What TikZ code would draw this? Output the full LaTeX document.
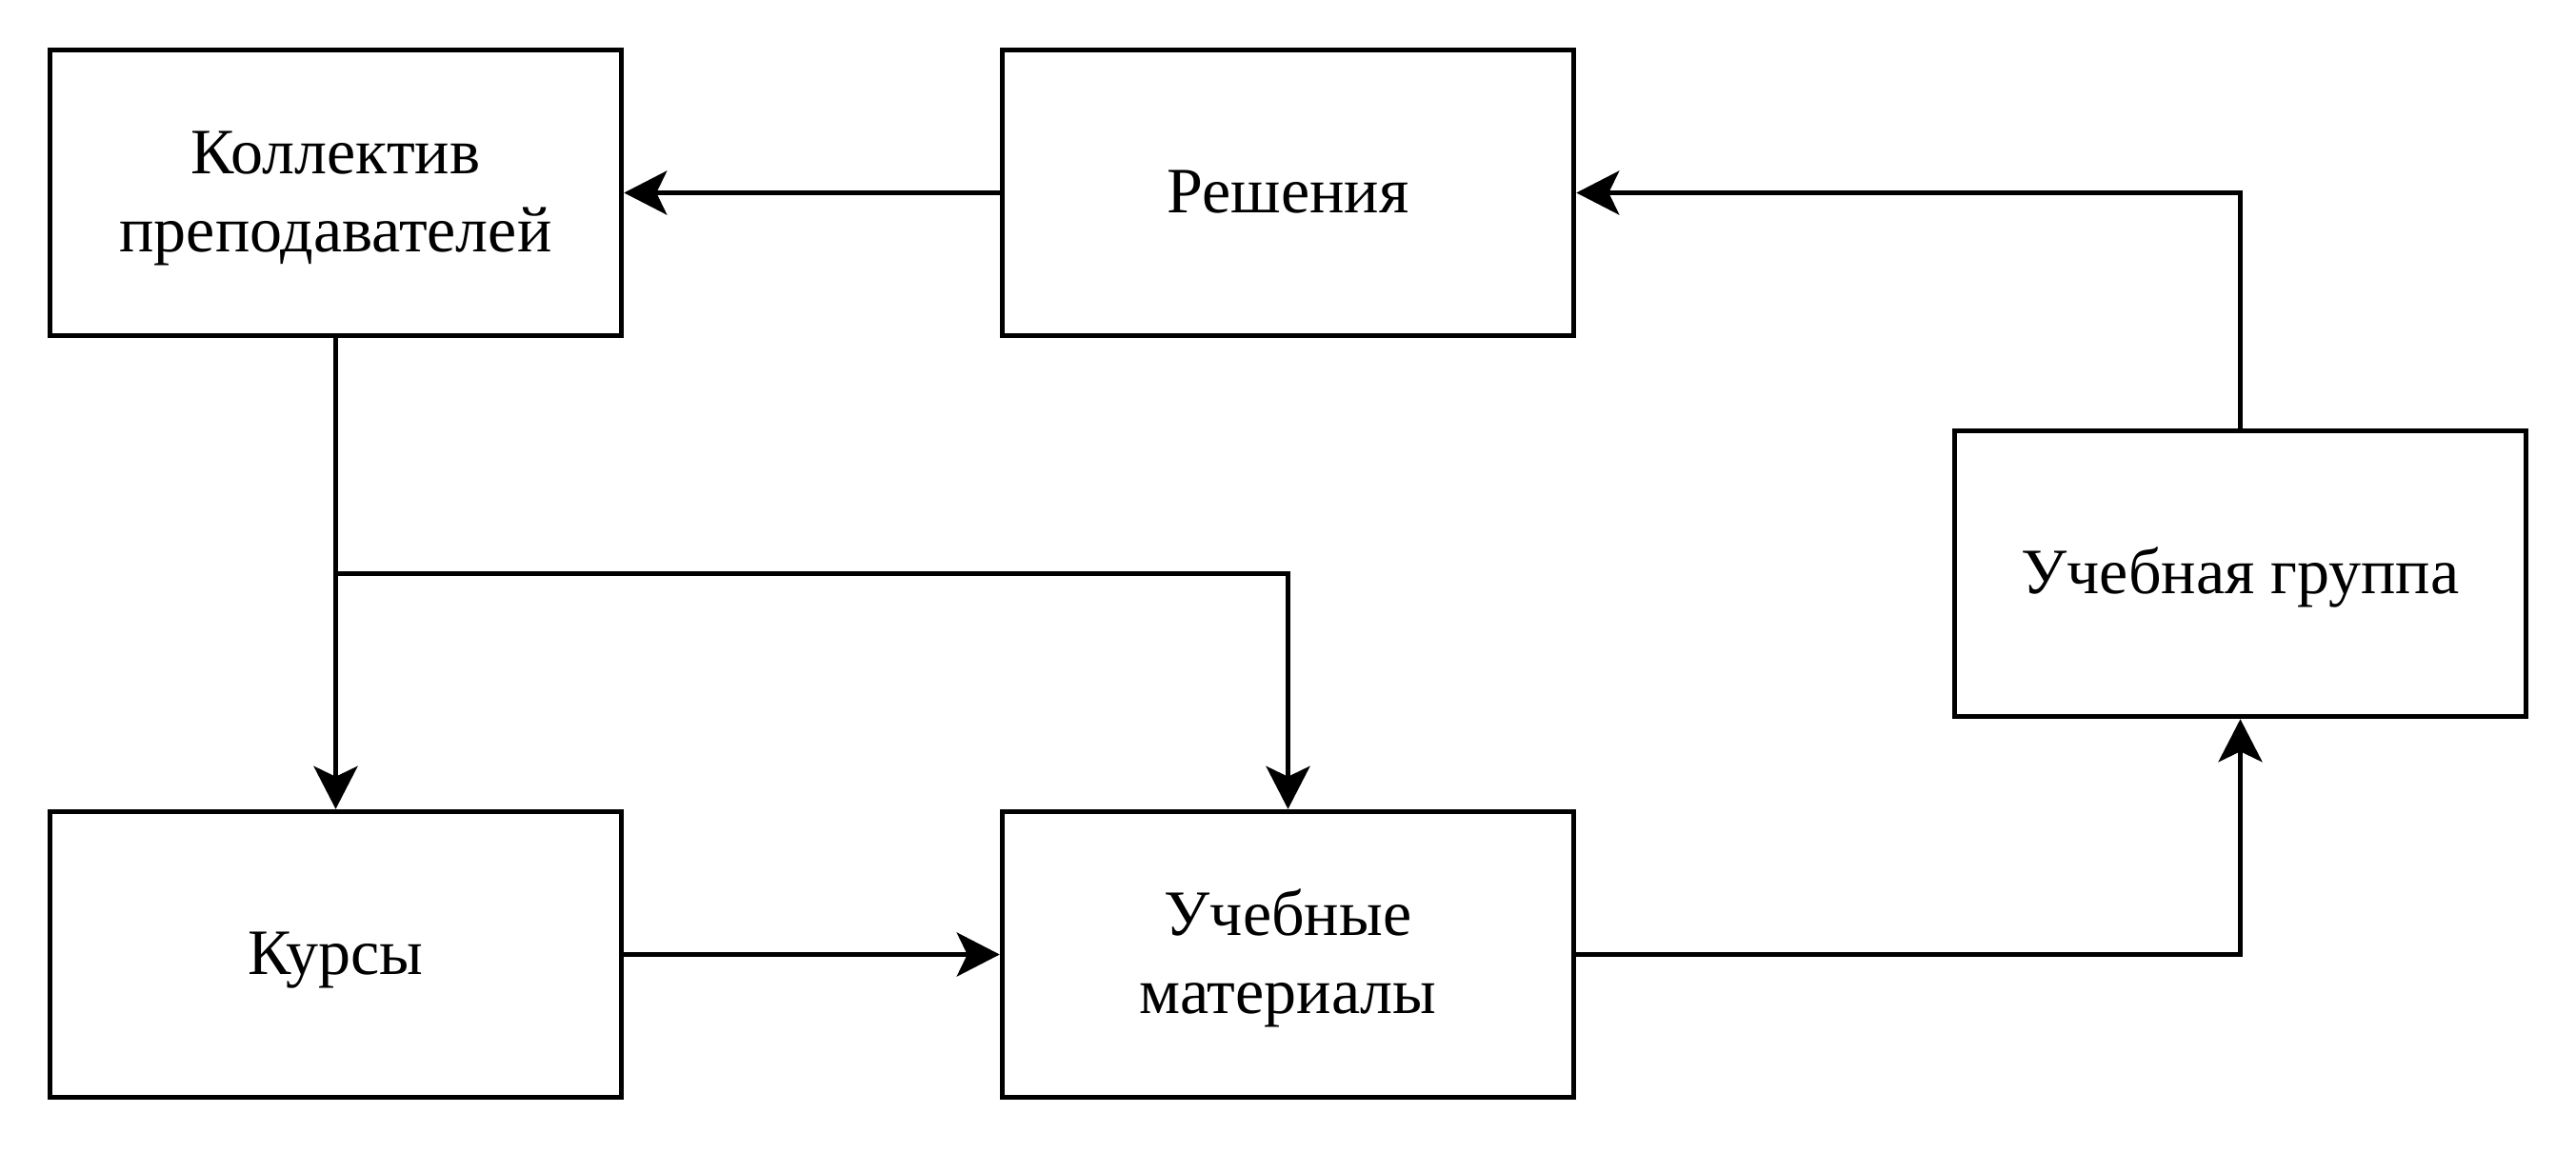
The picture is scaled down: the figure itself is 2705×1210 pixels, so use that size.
\documentclass[tikz,border=0pt]{standalone}
\usepackage{fontspec}
\setmainfont{Liberation Serif}
\usetikzlibrary{arrows.meta}
\newcommand{\boxtext}[1]{\raisebox{-5pt}[\height][\depth]{\begin{tabular}{@{}c@{}}#1\end{tabular}}}
\begin{document}
\begin{tikzpicture}[x=1pt,y=-1pt,
  box/.style={draw=black, line width=5.5pt, minimum width=600pt, minimum height=300pt, inner sep=0pt, align=center, font=\fontsize{68}{82}\selectfont},
  conn/.style={line width=5pt, -{Stealth[length=45pt, width=46pt, inset=11pt]}}]
\useasboundingbox[fill=white] (0,0) rectangle (2705,1210);
\node[box] (kol) at (352.5,202.5) {\boxtext{Коллектив\\преподавателей}};
\node[box] (res) at (1352.5,202.5) {\boxtext{Решения}};
\node[box] (grp) at (2352.5,602.5) {\boxtext{Учебная группа}};
\node[box] (kur) at (352.5,1002.5) {\boxtext{Курсы}};
\node[box] (mat) at (1352.5,1002.5) {\boxtext{Учебные\\материалы}};
\coordinate (br) at (352.5,602);
\draw[conn] (res.west) -- (kol.east);
\draw[conn] (grp.north) |- (res.east);
\draw[conn] (kol.south) -- (kur.north);
\draw[conn] (br) -| (mat.north);
\draw[conn] (kur.east) -- (mat.west);
\draw[conn] (mat.east) -| (grp.south);
\end{tikzpicture}
\end{document}
